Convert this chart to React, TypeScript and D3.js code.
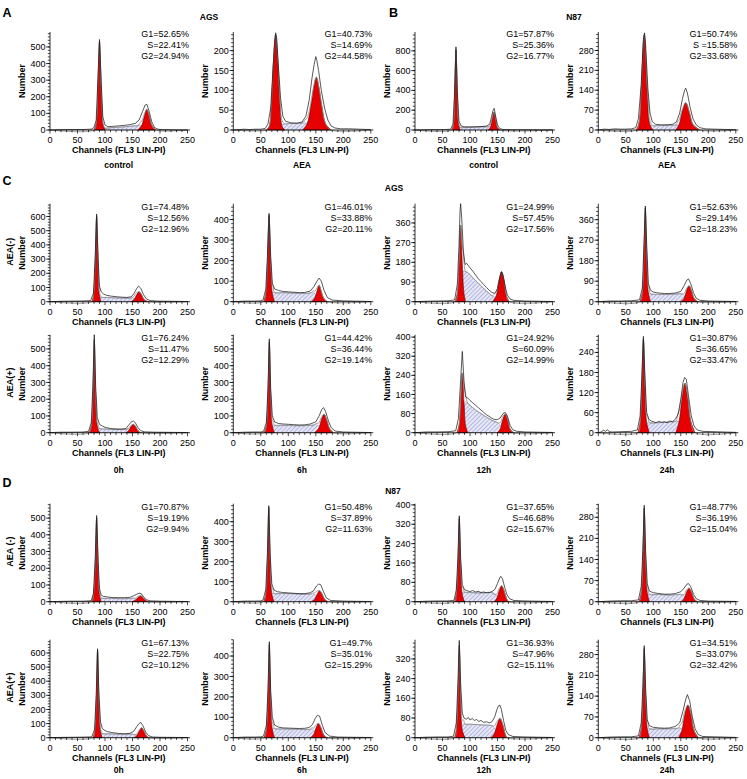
import React from "react";
import * as d3 from "d3";

type Pt = [number, number];

// ---------- data ----------
const panelLetters = ["A", "B", "C", "D"];
const bottomLabels = ["control", "AEA", "control", "AEA"];
const timeLabels = ["0h", "6h", "12h", "24h"];
const rowLabels = ["AEA(-)", "AEA(+)", "AEA (-)", "AEA(+)"];

const pctTexts: string[][] = [
  ["G1=52.65%", "S=22.41%", "G2=24.94%"],
  ["G1=40.73%", "S=14.69%", "G2=44.58%"],
  ["G1=57.87%", "S=25.36%", "G2=16.77%"],
  ["G1=50.74%", "S =15.58%", "G2=33.68%"],
  ["G1=74.48%", "S=12.56%", "G2=12.96%"],
  ["G1=46.01%", "S=33.88%", "G2=20.11%"],
  ["G1=24.99%", "S=57.45%", "G2=17.56%"],
  ["G1=52.63%", "S=29.14%", "G2=18.23%"],
  ["G1=76.24%", "S=11.47%", "G2=12.29%"],
  ["G1=44.42%", "S=36.44%", "G2=19.14%"],
  ["G1=24.92%", "S=60.09%", "G2=14.99%"],
  ["G1=30.87%", "S=36.65%", "G2=33.47%"],
  ["G1=70.87%", "S=19.19%", "G2=9.94%"],
  ["G1=50.48%", "S=37.89%", "G2=11.63%"],
  ["G1=37.65%", "S=46.68%", "G2=15.67%"],
  ["G1=48.77%", "S=36.19%", "G2=15.04%"],
  ["G1=67.13%", "S=22.75%", "G2=10.12%"],
  ["G1=49.7%", "S=35.01%", "G2=15.29%"],
  ["G1=36.93%", "S=47.96%", "G2=15.11%"],
  ["G1=34.51%", "S=33.07%", "G2=32.42%"],
];

const yMaxes = [590, 247, 990, 345, 690, 477, 448, 430, 585, 585, 410, 293, 586, 490, 405, 325, 694, 480, 398, 330];
const ySteps = [100, 50, 200, 70, 100, 100, 90, 90, 100, 100, 80, 60, 100, 100, 80, 70, 100, 100, 80, 70];

const g1Peaks: Pt[][] = [
  [[80,0],[84,40],[87,250],[90,530],[93,250],[96,40],[100,0]],
  [[60,0],[65,8],[69,60],[73,170],[77,240],[81,170],[85,60],[89,8],[94,0]],
  [[67,0],[70,60],[72,350],[74.5,810],[77,350],[79,60],[82,0]],
  [[69,0],[74,25],[78,140],[83.6,335],[89,140],[93,25],[99,0]],
  [[76,0],[79,40],[82,250],[84.8,600],[87.5,250],[90,40],[93,0]],
  [[55,0],[59,40],[62,180],[65,420],[68,180],[71,40],[75,0]],
  [[73,0],[77,40],[80,170],[83,350],[86,170],[89,40],[92,0]],
  [[76,0],[80,40],[83,200],[85.5,410],[88,200],[91,40],[95,0]],
  [[71,0],[75,40],[78,220],[80.5,555],[83,220],[86,40],[90,0]],
  [[56,0],[60,40],[63,220],[65.5,540],[68,220],[71,40],[75,0]],
  [[76,0],[80,30],[83,130],[86,250],[89,130],[92,30],[96,0]],
  [[72,0],[76,30],[79,130],[82,280],[85,130],[88,30],[93,0]],
  [[76,0],[79,40],[82,200],[84.8,500],[87.5,200],[90,40],[93,0]],
  [[55,0],[59,40],[62,200],[64.5,470],[67,200],[70,40],[74,0]],
  [[72,0],[75,30],[78,150],[80.5,344],[83,150],[86,30],[90,0]],
  [[74,0],[78,30],[81,140],[83.5,310],[86,140],[89,30],[93,0]],
  [[78,0],[81,40],[84,250],[86.5,617],[89,250],[92,40],[95,0]],
  [[56,0],[60,40],[63,190],[65.5,455],[68,190],[71,40],[75,0]],
  [[72,0],[75,30],[78,160],[80.5,374],[83,160],[86,30],[91,0]],
  [[74,0],[78,30],[81,140],[83.5,300],[86,140],[89,30],[93,0]],
];

const g2Peaks: Pt[][] = [
  [[160,0],[167,30],[172,90],[176,125],[180,90],[185,30],[192,0]],
  [[126,0],[134,15],[141,60],[146,105],[151,133],[156,105],[161,60],[168,15],[178,0]],
  [[133,0],[137,25],[140,100],[143.5,180],[147,100],[150,25],[155,0]],
  [[141,0],[147,20],[152,60],[159,96],[166,60],[172,20],[185,0]],
  [[147,0],[153,15],[157,45],[162,70],[167,45],[171,15],[179,0]],
  [[142,0],[148,18],[152,50],[156,80],[160,50],[164,18],[171,0]],
  [[141,0],[148,30],[153,95],[157.5,137],[162,95],[166,30],[171,0]],
  [[150,0],[156,15],[160,45],[165,70],[170,45],[174,15],[181,0]],
  [[138,0],[143,12],[147,35],[151.5,50],[156,35],[160,12],[165,0]],
  [[148,0],[155,25],[160,75],[165,110],[170,75],[175,25],[182,0]],
  [[150,0],[155,15],[159,50],[164,78],[169,50],[173,15],[179,0]],
  [[141,0],[147,35],[152,100],[157.5,148],[163,100],[168,35],[176,0]],
  [[149,0],[155,8],[159,22],[164.8,35],[170,22],[174,8],[178,0]],
  [[142,0],[148,12],[152,35],[157,55],[162,35],[166,12],[172,0]],
  [[144,0],[149,15],[153,45],[157.5,66],[162,45],[166,15],[170,0]],
  [[151,0],[156,10],[160,30],[165,45],[170,30],[174,10],[180,0]],
  [[153,0],[158,15],[162,45],[166.5,70],[171,45],[175,15],[179,0]],
  [[140,0],[146,15],[150,45],[155,70],[160,45],[164,15],[170,0]],
  [[138,0],[144,15],[149,50],[154.5,78],[160,50],[164,15],[167,0]],
  [[146,0],[152,25],[157,75],[163,110],[169,75],[174,25],[182,0]],
];

const sPhase: Pt[][] = [
  [[90,0],[95,10],[110,14],[130,18],[150,24],[165,28],[176,0]],
  [[77,0],[85,14],[100,16],[115,17],[130,18],[151,0]],
  [[74.5,0],[80,28],[100,30],[120,32],[135,35],[143.5,0]],
  [[83.6,0],[92,15],[110,16],[130,17],[145,18],[159,0]],
  [[84.8,0],[92,32],[105,30],[120,27],[140,25],[155,25],[162,0]],
  [[65,0],[72,45],[90,44],[110,42],[130,40],[145,45],[156,0]],
  [[83,0],[88,140],[95,135],[105,110],[115,85],[125,60],[135,38],[145,20],[157.5,0]],
  [[85.5,0],[92,35],[110,32],[130,32],[150,35],[165,0]],
  [[80.5,0],[88,25],[100,22],[120,20],[140,20],[151.5,0]],
  [[65.5,0],[73,45],[90,44],[110,42],[130,42],[150,48],[165,0]],
  [[86,0],[92,130],[100,115],[110,95],[120,80],[130,65],[140,52],[150,42],[164,0]],
  [[82,0],[90,30],[110,30],[130,32],[145,35],[157.5,0]],
  [[84.8,0],[92,22],[110,20],[130,18],[150,20],[164.8,0]],
  [[64.5,0],[72,42],[90,41],[110,40],[130,38],[146,40],[157,0]],
  [[80.5,0],[88,40],[100,38],[120,36],[140,38],[157.5,0]],
  [[83.5,0],[90,25],[110,24],[130,22],[150,24],[165,0]],
  [[86.5,0],[94,30],[110,27],[130,24],[150,25],[166.5,0]],
  [[65.5,0],[73,45],[90,43],[110,42],[130,40],[143,42],[155,0]],
  [[80.5,0],[88,55],[100,55],[120,52],[138,50],[154.5,0]],
  [[83.5,0],[90,30],[110,30],[130,30],[148,33],[163,0]],
];

const rawCounts: Pt[][] = [
  [[0,0],[20,2],[40,3],[60,3],[75,5],[80,15],[84,60],[87,300],[90,545],[93,300],[96,80],[100,30],[105,20],[115,22],[125,25],[135,28],[145,32],[155,40],[162,60],[168,110],[173,150],[176,155],[180,115],[185,50],[190,15],[196,5],[205,2],[230,1],[250,0]],
  [[0,0],[10,1],[20,2],[30,1],[40,2],[50,2],[58,4],[63,15],[68,55],[72,150],[75,220],[77,245],[79,230],[82,160],[86,80],[90,35],[95,22],[105,18],[115,17],[125,20],[132,35],[138,75],[143,130],[147,165],[150,185],[152,175],[155,150],[160,100],[166,55],[172,25],[178,10],[185,5],[195,3],[210,3],[230,2],[250,1]],
  [[0,0],[20,3],[40,4],[55,5],[65,8],[69,60],[72,380],[74.5,840],[77,380],[80,90],[84,40],[90,32],[100,30],[110,32],[120,34],[130,40],[136,60],[139,130],[142,200],[144,219],[147,130],[150,50],[154,15],[160,5],[180,3],[220,2],[250,1]],
  [[0,0],[10,3],[20,2],[30,4],[40,3],[50,3],[60,4],[68,8],[73,40],[78,160],[82,320],[84,342],[86,300],[90,150],[94,60],[98,30],[104,20],[115,18],[125,18],[135,20],[142,28],[148,60],[153,110],[157,140],[159,147],[162,130],[167,80],[172,40],[178,18],[185,8],[195,4],[210,3],[230,2],[250,1]],
  [[0,0],[20,3],[40,4],[60,5],[74,8],[79,60],[82,300],[84.8,618],[87.5,300],[90,110],[93,70],[97,55],[103,45],[110,40],[120,35],[130,32],[140,30],[148,35],[153,60],[158,95],[161,110],[165,95],[170,50],[175,20],[182,8],[195,4],[220,3],[250,1]],
  [[0,0],[20,3],[40,3],[50,4],[54,8],[59,60],[62,220],[65,430],[68,220],[71,90],[75,62],[82,55],[90,50],[100,48],[110,46],[120,44],[130,45],[140,52],[147,75],[152,100],[156,115],[160,100],[165,55],[171,20],[180,8],[200,4],[250,1]],
  [[0,0],[20,2],[40,3],[60,4],[72,8],[77,80],[80,260],[82,420],[83,448],[85,380],[88,230],[91,170],[94,175],[97,165],[100,155],[105,140],[110,122],[115,105],[120,92],[125,78],[130,65],[135,52],[140,42],[145,38],[150,60],[154,110],[157,137],[160,120],[164,70],[168,30],[173,12],[180,6],[200,3],[250,1]],
  [[0,0],[20,3],[40,3],[60,4],[75,8],[80,60],[83,250],[85.5,420],[88,250],[91,80],[95,50],[100,42],[110,38],[120,36],[130,36],[140,38],[150,45],[156,70],[161,95],[164,100],[168,80],[173,40],[178,15],[185,6],[200,3],[250,1]],
  [[0,0],[10,2],[20,3],[40,3],[60,4],[70,8],[75,60],[78,280],[80.5,585],[83,280],[86,90],[90,50],[95,40],[100,32],[110,25],[120,22],[130,22],[138,25],[143,45],[148,65],[151.5,70],[155,60],[160,30],[165,12],[172,5],[190,3],[250,1]],
  [[0,0],[20,3],[40,4],[50,4],[55,8],[60,60],[63,260],[65.5,560],[68,260],[71,100],[75,65],[82,55],[90,52],[100,50],[110,48],[120,46],[130,47],[140,52],[150,65],[156,100],[161,140],[164,150],[168,125],[173,70],[178,30],[185,10],[200,4],[250,1]],
  [[0,0],[20,3],[40,3],[60,4],[74,8],[79,60],[83,220],[86,340],[89,220],[92,150],[96,145],[100,135],[105,125],[110,115],[115,105],[120,95],[125,85],[130,75],[135,68],[140,60],[145,55],[150,55],[155,62],[160,80],[164,85],[168,70],[173,30],[178,12],[185,6],[200,3],[250,1]],
  [[0,0],[5,2],[10,8],[13,4],[17,9],[20,3],[25,2],[40,3],[60,4],[71,8],[76,50],[79,160],[82,288],[85,160],[88,60],[92,40],[96,35],[100,33],[105,30],[110,34],[115,31],[120,33],[125,30],[130,35],[135,33],[140,40],[145,55],[150,100],[154,150],[157,165],[160,160],[164,110],[169,50],[174,20],[180,8],[190,4],[250,1]],
  [[0,0],[20,2],[40,3],[60,3],[75,6],[79,50],[82,240],[84.8,515],[87.5,240],[90,80],[93,40],[97,32],[105,28],[115,25],[125,24],[135,24],[145,26],[152,35],[158,45],[162,51],[166,48],[170,30],[175,12],[182,5],[200,3],[250,1]],
  [[0,0],[20,3],[40,3],[50,4],[54,8],[59,60],[62,240],[64.5,480],[67,240],[70,90],[74,58],[80,50],[90,46],[100,44],[110,42],[120,40],[130,40],[140,45],[146,55],[151,78],[155,88],[159,85],[164,50],[169,20],[177,6],[200,3],[250,1]],
  [[0,0],[20,2],[40,3],[60,3],[71,6],[75,50],[78,180],[80.5,355],[83,180],[86,70],[90,50],[95,45],[100,42],[105,46],[110,40],[115,43],[120,38],[125,40],[130,37],[135,38],[140,42],[145,50],[150,75],[154,98],[156,105],[159,95],[163,60],[167,30],[172,12],[180,5],[200,3],[250,1]],
  [[0,0],[20,2],[40,3],[60,3],[73,6],[78,50],[81,170],[83.5,320],[86,170],[89,60],[93,35],[100,30],[110,27],[120,25],[130,25],[140,27],[150,33],[156,45],[161,58],[164,60],[168,50],[173,25],[178,10],[185,4],[200,2],[250,1]],
  [[0,0],[20,2],[40,3],[60,4],[76,6],[81,60],[84,300],[86.5,630],[89,300],[92,110],[95,65],[100,50],[105,42],[115,35],[125,30],[135,28],[145,30],[152,45],[158,80],[162,100],[165,108],[169,85],[174,40],[179,15],[186,5],[200,3],[250,1]],
  [[0,0],[20,3],[40,3],[50,4],[55,8],[60,60],[63,230],[65.5,470],[68,230],[71,100],[75,62],[82,52],[90,48],[100,47],[110,46],[120,45],[130,46],[138,50],[144,65],[149,95],[153,110],[157,105],[162,60],[167,25],[175,8],[190,3],[250,1]],
  [[0,0],[20,2],[40,3],[60,3],[70,6],[75,60],[78,220],[80.5,395],[83,220],[86,100],[89,80],[93,75],[97,82],[100,72],[104,78],[108,70],[112,74],[116,66],[120,70],[125,62],[130,65],[135,60],[140,65],[145,85],[149,115],[152,130],[154.5,132],[157,115],[161,70],[165,30],[170,12],[178,5],[200,3],[250,1]],
  [[0,0],[20,2],[40,3],[60,3],[73,6],[78,50],[81,170],[83.5,310],[86,170],[89,60],[93,40],[100,35],[110,33],[120,32],[130,33],[140,38],[148,50],[154,90],[159,130],[162,145],[166,125],[171,70],[176,30],[182,10],[190,4],[250,1]],
];

const xTicks = [0, 50, 100, 150, 200, 250];

// ---------- layout ----------
const COL_X = [50, 233.3, 415, 598.3];
const ROW_BASE = [130, 301.7, 432.7, 601.7, 737.7];
const PW = 137.5;
const PH = 98;
const FONT = "'Liberation Sans', Arial, Helvetica, sans-serif";

function interp(pts: Pt[], c: number): number {
  if (c < pts[0][0] || c > pts[pts.length - 1][0]) return 0;
  for (let k = 0; k < pts.length - 1; k++) {
    const a = pts[k], b = pts[k + 1];
    if (c >= a[0] && c <= b[0]) {
      const t = b[0] === a[0] ? 0 : (c - a[0]) / (b[0] - a[0]);
      return a[1] + t * (b[1] - a[1]);
    }
  }
  return 0;
}

function Panel({ i }: { i: number }) {
  const col = i % 4;
  const row = Math.floor(i / 4);
  const x0 = COL_X[col];
  const base = ROW_BASE[row];
  const yMax = yMaxes[i];
  const step = ySteps[i];
  const x = d3.scaleLinear().domain([0, 250]).range([x0, x0 + PW]);
  const y = d3.scaleLinear().domain([0, yMax]).range([base, base - PH]).clamp(true);

  const area = d3.area<Pt>().x((d) => x(d[0])).y0(base).y1((d) => y(d[1])).curve(d3.curveCatmullRom.alpha(0.5));
  const sArea = d3.area<Pt>().x((d) => x(d[0])).y0(base).y1((d) => y(d[1])).curve(d3.curveMonotoneX);
  const rawLine = d3.line<Pt>().x((d) => x(d[0])).y((d) => y(d[1]));
  const modelLine = d3.line<Pt>().x((d) => x(d[0])).y((d) => y(d[1])).curve(d3.curveCatmullRom.alpha(0.5));

  const knots = Array.from(
    new Set([0, ...g1Peaks[i].map((d) => d[0]), ...g2Peaks[i].map((d) => d[0]), ...sPhase[i].map((d) => d[0]), 250])
  ).sort((a, b) => a - b);
  const model: Pt[] = knots.map((c) => [c, interp(g1Peaks[i], c) + interp(g2Peaks[i], c) + interp(sPhase[i], c)]);

  const majors: number[] = [];
  for (let v = 0; v <= yMax + 1e-6; v += step) majors.push(v);
  const minors: number[] = [];
  const ms = step / 5;
  for (let v = 0; v <= yMax + 1e-6; v += ms) minors.push(v);
  const xMinors: number[] = [];
  for (let v = 0; v <= 250; v += 10) xMinors.push(v);

  const top = base - PH;
  const pctY = base - (row === 0 ? 93 : 91.5);

  return (
    <g>
      <path d={sArea(sPhase[i]) || ""} fill="url(#hatch)" stroke="#8a8aa8" strokeWidth={0.5} />
      <path d={area(g1Peaks[i]) || ""} fill="#e60000" stroke="#5a0000" strokeWidth={0.6} />
      <path d={area(g2Peaks[i]) || ""} fill="#e60000" stroke="#5a0000" strokeWidth={0.6} />
      <path d={modelLine(model) || ""} fill="none" stroke="#8c8c8c" strokeWidth={0.8} />
      <path d={rawLine(rawCounts[i]) || ""} fill="none" stroke="#111" strokeWidth={0.7} />

      <line x1={x0} x2={x0 + PW + 2.5} y1={base} y2={base} stroke="#000" strokeWidth={0.8} />
      <line x1={x0} x2={x0} y1={base} y2={top} stroke="#000" strokeWidth={0.8} />
      {xMinors.map((v) => (
        <line key={"xm" + v} x1={x(v)} x2={x(v)} y1={base} y2={base + (v % 50 === 0 ? 3.5 : 2.2)} stroke="#000" strokeWidth={0.7} />
      ))}
      {minors.map((v) => (
        <line key={"ym" + v} x1={x0} x2={x0 - 2.2} y1={y(v)} y2={y(v)} stroke="#000" strokeWidth={0.7} />
      ))}
      {majors.map((v) => (
        <g key={"yM" + v}>
          <line x1={x0} x2={x0 - 3.8} y1={y(v)} y2={y(v)} stroke="#000" strokeWidth={0.8} />
          <text x={x0 - 4.5} y={y(v)} dy="0.34em" textAnchor="end" fontSize={9} fontFamily={FONT}>{v}</text>
        </g>
      ))}
      {xTicks.map((v) => (
        <text key={"xl" + v} x={x(v)} y={base + 13} textAnchor="middle" fontSize={9} fontFamily={FONT}>{v}</text>
      ))}
      <text x={x0 + PW / 2} y={base + 23.3} textAnchor="middle" fontSize={9} fontWeight="bold" fontFamily={FONT}>Channels (FL3 LIN-PI)</text>
      <text transform={`translate(${x0 - 25.5},${base - PH / 2}) rotate(-90)`} textAnchor="middle" fontSize={9} fontWeight="bold" fontFamily={FONT}>Number</text>
      {pctTexts[i].map((t, k) => (
        <text key={"p" + k} x={x0 + 139} y={pctY + k * 11} textAnchor="end" fontSize={9} fontFamily={FONT}>{t}</text>
      ))}
    </g>
  );
}

export default function App() {
  const idx = Array.from({ length: 20 }, (_, k) => k);
  const bold = { fontFamily: FONT, fontWeight: "bold" as const };
  return (
    <svg width={747} height={779} style={{ position: "absolute", left: 0, top: 0, background: "#fff" }}>
      <defs>
        <pattern id="hatch" width={3} height={3} patternUnits="userSpaceOnUse" patternTransform="rotate(45)">
          <rect width={3} height={3} fill="#e8e8f5" />
          <line x1={0} y1={0} x2={0} y2={3} stroke="#5563c4" strokeWidth={0.75} />
        </pattern>
      </defs>
      <rect width={747} height={779} fill="#fff" />
      {idx.map((i) => <Panel key={i} i={i} />)}

      <text x={2.5} y={16.5} fontSize={12.5} {...bold}>{panelLetters[0]}</text>
      <text x={389} y={16.5} fontSize={12.5} {...bold}>{panelLetters[1]}</text>
      <text x={2.5} y={185} fontSize={12.5} {...bold}>{panelLetters[2]}</text>
      <text x={2.5} y={487} fontSize={12.5} {...bold}>{panelLetters[3]}</text>

      <text x={209} y={19.5} textAnchor="middle" fontSize={8.5} {...bold}>AGS</text>
      <text x={574} y={19.5} textAnchor="middle" fontSize={8.5} {...bold}>N87</text>
      <text x={394} y={191} textAnchor="middle" fontSize={8.5} {...bold}>AGS</text>
      <text x={393} y={494} textAnchor="middle" fontSize={8.5} {...bold}>N87</text>

      {bottomLabels.map((t, c) => (
        <text key={"b" + c} x={COL_X[c] + PW / 2} y={ROW_BASE[0] + 38} textAnchor="middle" fontSize={8.5} {...bold}>{t}</text>
      ))}
      {timeLabels.map((t, c) => (
        <text key={"t1" + c} x={COL_X[c] + PW / 2} y={ROW_BASE[2] + 40} textAnchor="middle" fontSize={8.5} {...bold}>{t}</text>
      ))}
      {timeLabels.map((t, c) => (
        <text key={"t2" + c} x={COL_X[c] + PW / 2} y={ROW_BASE[4] + 35.5} textAnchor="middle" fontSize={8.5} {...bold}>{t}</text>
      ))}
      {rowLabels.map((t, r) => (
        <text key={"r" + r} transform={`translate(13,${ROW_BASE[r + 1] - 50}) rotate(-90)`} textAnchor="middle" fontSize={9} {...bold}>{t}</text>
      ))}
    </svg>
  );
}
